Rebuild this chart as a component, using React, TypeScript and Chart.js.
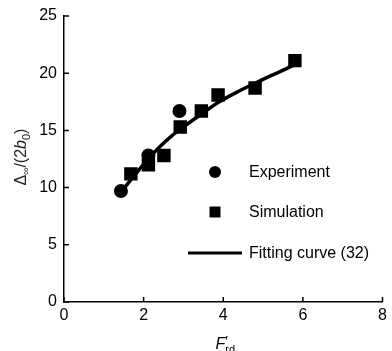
import React, { useEffect, useRef } from "react";
import { Chart, registerables } from "chart.js";

Chart.register(...registerables);

// Experiment (circles)
const expX = [1.43, 2.12, 2.9];
const expY = [9.7, 12.8, 16.7];
// Simulation (squares)
const simX = [1.68, 2.12, 2.51, 2.92, 3.45, 3.87, 4.8, 5.8];
const simY = [11.2, 12.0, 12.8, 15.3, 16.7, 18.1, 18.7, 21.1];
// Fitting curve (32)
const fitX = [1.45, 1.8, 2.1, 2.4, 2.7, 3.0, 3.4, 3.9, 4.4, 4.9, 5.4, 5.8];
const fitY = [9.7, 11.2, 12.45, 13.55, 14.5, 15.3, 16.3, 17.5, 18.45, 19.3, 20.1, 20.75];

const xTicks = [0, 2, 4, 6, 8];
const yTicks = [0, 5, 10, 15, 20, 25];
const legendLabels = ["Experiment", "Simulation", "Fitting curve (32)"];

const FONT = "'Liberation Sans', Arial, Helvetica, sans-serif";

const decorPlugin = {
  id: "decor",
  afterDraw(chart: any) {
    const ctx = chart.ctx as CanvasRenderingContext2D;
    const xs = chart.scales.x;
    const ys = chart.scales.y;
    const area = chart.chartArea;
    ctx.save();
    // inward ticks
    ctx.strokeStyle = "#000";
    ctx.lineWidth = 1.5;
    ctx.beginPath();
    for (const t of xTicks) {
      const px = xs.getPixelForValue(t);
      ctx.moveTo(px, area.bottom);
      ctx.lineTo(px, area.bottom - 5);
    }
    for (const t of yTicks) {
      const py = ys.getPixelForValue(t);
      ctx.moveTo(area.left, py);
      ctx.lineTo(area.left + 5, py);
    }
    ctx.stroke();

    // legend
    const lx = area.left + 151;
    const tx = area.left + 185;
    const rows = [area.top + 156, area.top + 196, area.top + 237];
    ctx.fillStyle = "#000";
    ctx.beginPath();
    ctx.arc(lx, rows[0], 6, 0, Math.PI * 2);
    ctx.fill();
    ctx.fillRect(lx - 5.5, rows[1] - 5.5, 11, 11);
    ctx.lineWidth = 3;
    ctx.beginPath();
    ctx.moveTo(area.left + 124, rows[2]);
    ctx.lineTo(area.left + 178, rows[2]);
    ctx.stroke();
    ctx.font = `16px ${FONT}`;
    ctx.textBaseline = "middle";
    ctx.textAlign = "left";
    legendLabels.forEach((l, i) => ctx.fillText(l, tx, rows[i] + 1));

    // y title: Δ∞/(2b0)
    ctx.save();
    ctx.translate(20, (area.top + area.bottom) / 2 - 2);
    ctx.rotate(-Math.PI / 2);
    ctx.textBaseline = "alphabetic";
    ctx.fillStyle = "#222";
    const parts: [string, string, number][] = [
      ["\u0394", `16px ${FONT}`, 0],
      ["\u221E", `10px ${FONT}`, 3],
      ["/(2", `16px ${FONT}`, 0],
      ["b", `italic 16px ${FONT}`, 0],
      ["0", `11px ${FONT}`, 4],
      [")", `16px ${FONT}`, 0],
    ];
    let total = 0;
    for (const [s, f] of parts) {
      ctx.font = f;
      total += ctx.measureText(s).width;
    }
    let cx = -total / 2;
    for (const [s, f, dy] of parts) {
      ctx.font = f;
      ctx.fillText(s, cx, 6 + dy);
      cx += ctx.measureText(s).width;
    }
    ctx.restore();

    // x title: F′rd
    ctx.fillStyle = "#000";
    ctx.textBaseline = "alphabetic";
    const mid = (area.left + area.right) / 2;
    ctx.font = `italic 16px ${FONT}`;
    const fw = ctx.measureText("F").width;
    ctx.font = `11px ${FONT}`;
    const rw = ctx.measureText("rd").width;
    const start = mid + 2 - (fw + rw) / 2;
    ctx.font = `italic 16px ${FONT}`;
    ctx.fillText("F", start, 349);
    ctx.font = `14px ${FONT}`;
    ctx.fillText("\u2032", start + fw, 346);
    ctx.font = `11px ${FONT}`;
    ctx.fillText("rd", start + fw, 353);
    ctx.restore();
  },
};

export default function App() {
  const ref = useRef<HTMLCanvasElement>(null);
  useEffect(() => {
    if (!ref.current) return;
    const chart = new Chart(ref.current, {
      type: "scatter",
      data: {
        datasets: [
          {
            label: "Fitting curve (32)",
            data: fitX.map((x, i) => ({ x, y: fitY[i] })),
            showLine: true,
            borderColor: "#000",
            borderWidth: 3.5,
            pointRadius: 0,
            cubicInterpolationMode: "monotone",
            fill: false,
          },
          {
            label: "Experiment",
            data: expX.map((x, i) => ({ x, y: expY[i] })),
            pointStyle: "circle",
            pointRadius: 7,
            backgroundColor: "#000",
            borderColor: "#000",
            borderWidth: 0,
          },
          {
            label: "Simulation",
            data: simX.map((x, i) => ({ x, y: simY[i] })),
            pointStyle: "rect",
            pointRadius: 9.5,
            backgroundColor: "#000",
            borderColor: "#000",
            borderWidth: 0,
          },
        ],
      },
      options: {
        animation: false,
        responsive: true,
        maintainAspectRatio: false,
        layout: { padding: { left: 0, top: 16, right: 4, bottom: 0 } },
        plugins: { legend: { display: false }, tooltip: { enabled: false } },
        scales: {
          x: {
            type: "linear",
            min: 0,
            max: 8,
            afterBuildTicks: (s: any) => {
              s.ticks = xTicks.map((v) => ({ value: v }));
            },
            afterFit: (s: any) => {
              s.height = 49;
              s.paddingLeft = 0;
              s.paddingRight = 0;
            },
            grid: { display: true, drawOnChartArea: false, drawTicks: false },
            border: { display: true, color: "#000", width: 1.5 },
            ticks: {
              color: "#000",
              font: { family: FONT, size: 16 },
              padding: 4,
              maxRotation: 0,
            },
          },
          y: {
            type: "linear",
            min: 0,
            max: 25,
            afterBuildTicks: (s: any) => {
              s.ticks = yTicks.map((v) => ({ value: v }));
            },
            afterFit: (s: any) => {
              s.width = 64;
              s.paddingTop = 0;
              s.paddingBottom = 0;
            },
            grid: { display: true, drawOnChartArea: false, drawTicks: false },
            border: { display: true, color: "#000", width: 1.5 },
            ticks: {
              color: "#000",
              font: { family: FONT, size: 16 },
              padding: 7,
            },
          },
        },
      },
      plugins: [decorPlugin],
    });
    return () => chart.destroy();
  }, []);
  return (
    <div style={{ position: "fixed", left: 0, top: 0, width: 392, height: 351 }}>
      <canvas ref={ref} />
    </div>
  );
}
